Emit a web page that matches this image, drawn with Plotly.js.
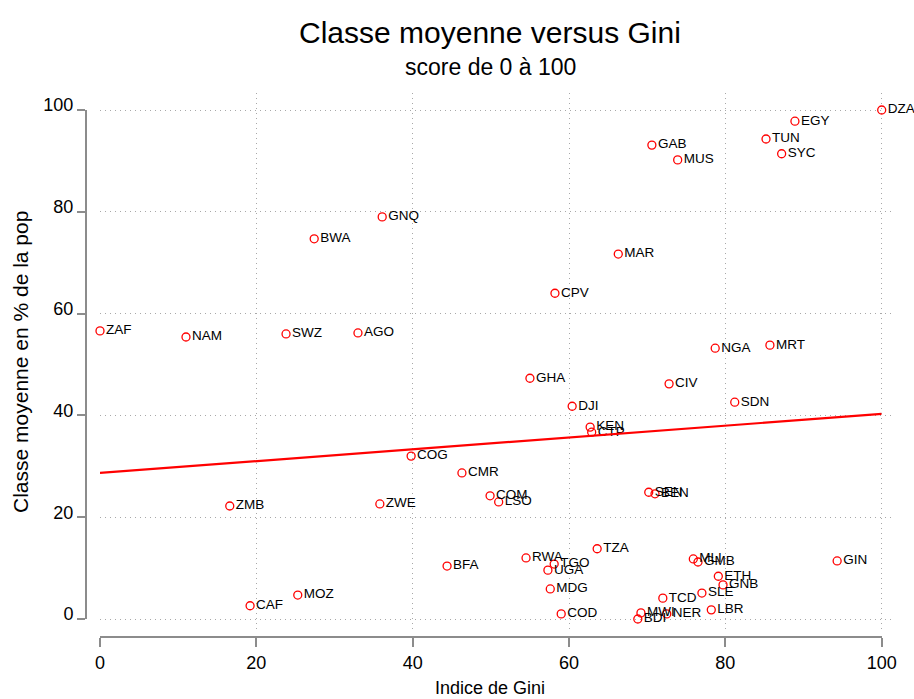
<!DOCTYPE html>
<html>
<head>
<meta charset="utf-8">
<script src="https://cdn.plot.ly/plotly-3.0.1.min.js"></script>
<style>html,body{margin:0;padding:0;background:#fff;}#chart{width:914px;height:699px;}</style>
</head>
<body>
<div id="chart"></div>
<script>
const countries = ["ZAF","NAM","SWZ","AGO","BWA","GNQ","ZMB","CAF","MOZ","ZWE","COG","CMR","BFA","COM","LSO","GHA","CPV","DJI","KEN","CTP","MAR","GAB","MUS","TUN","EGY","SYC","DZA","NGA","MRT","CIV","SDN","SEN","BEN","RWA","TGO","UGA","MDG","COD","TZA","MLI","GMB","ETH","GNB","SLE","LBR","TCD","MWI","NER","BDI","GIN"];
const gini = [0,11.0,23.8,33.0,27.4,36.1,16.6,19.2,25.3,35.8,39.8,46.3,44.4,49.9,51.0,55.0,58.2,60.4,62.7,62.9,66.3,70.6,73.9,85.2,88.9,87.2,100,78.7,85.7,72.8,81.2,70.2,71.0,54.5,58.1,57.3,57.6,59.0,63.6,75.9,76.5,79.1,79.7,77.0,78.2,72.0,69.2,72.5,68.8,94.3];
const middle = [56.6,55.4,56.0,56.2,74.7,79.0,22.2,2.6,4.7,22.6,32.0,28.7,10.4,24.2,23.0,47.3,64.0,41.8,37.7,36.7,71.7,93.1,90.2,94.3,97.8,91.4,100,53.2,53.8,46.2,42.6,24.9,24.6,12.0,10.8,9.6,5.9,1.0,13.8,11.8,11.2,8.4,6.7,5.1,1.8,4.1,1.2,1.0,0,11.4];
const fitX = [0,100];
const fitY = [28.7,40.3];
const tickValues = [0,20,40,60,80,100];

const W = 914, H = 699;
const FONT = "Liberation Sans, Arial, sans-serif";
const axisGray = "#8c8c8c";

const traces = [
  {x:[null], y:[null], xaxis:"x", yaxis:"y", mode:"markers", hoverinfo:"skip", showlegend:false},
  {x:gini, y:middle, text:countries, xaxis:"x2", yaxis:"y2", mode:"markers+text",
   type:"scatter", cliponaxis:false, showlegend:false,
   marker:{symbol:"circle-open", size:8, color:"#ff0000", line:{width:1.3, color:"#ff0000"}},
   textposition:"middle right", textfont:{family:FONT, size:13.5, color:"#000"}},
  {x:fitX, y:fitY, xaxis:"x2", yaxis:"y2", mode:"lines", showlegend:false,
   line:{color:"#ff0000", width:2.2}}
];

const layout = {
  width:W, height:H, autosize:false,
  margin:{l:0,r:0,t:0,b:0},
  paper_bgcolor:"#fff", plot_bgcolor:"rgba(0,0,0,0)",
  font:{family:FONT, color:"#000"},
  showlegend:false,
  xaxis:{domain:[100/W, 895/W], range:[0,101.7], anchor:"y",
         showgrid:true, griddash:"1px,4px", gridcolor:"#a8a8a8", gridwidth:1,
         tickvals:tickValues, showticklabels:false, ticks:"", zeroline:false, showline:false, fixedrange:true},
  yaxis:{domain:[69/H, 606/H], range:[-2.16,103.34], anchor:"x",
         showgrid:true, griddash:"1px,4px", gridcolor:"#a8a8a8", gridwidth:1,
         tickvals:tickValues, showticklabels:false, ticks:"", zeroline:false, showline:false, fixedrange:true},
  xaxis2:{domain:[100/W, 881.7/W], range:[0,100], anchor:"free", position:(H-637)/H,
          showline:true, linecolor:axisGray, linewidth:2, ticks:"outside", ticklen:9, tickwidth:2, tickcolor:axisGray,
          tickvals:tickValues, showgrid:false, zeroline:false,
          tickfont:{family:FONT, size:18, color:"#000"}},
  yaxis2:{domain:[(H-619)/H, (H-110)/H], range:[0,100], anchor:"free", position:86/W, side:"left",
          showline:true, linecolor:axisGray, linewidth:2, ticks:"outside", ticklen:8, tickwidth:2, tickcolor:axisGray,
          tickvals:tickValues, showgrid:false, zeroline:false, ticklabelshift:-5,
          tickfont:{family:FONT, size:18, color:"#000"}},
  annotations:[
    {text:"Classe moyenne versus Gini", xref:"paper", yref:"paper", x:490/W, y:1-32/H,
     xanchor:"center", yanchor:"middle", showarrow:false, font:{family:FONT, size:30, color:"#000"}},
    {text:"score de 0 à 100", xref:"paper", yref:"paper", x:490/W, y:1-67/H,
     xanchor:"center", yanchor:"middle", showarrow:false, font:{family:FONT, size:23, color:"#000"}},
    {text:"Indice de Gini", xref:"paper", yref:"paper", x:490/W, y:1-688/H,
     xanchor:"center", yanchor:"middle", showarrow:false, font:{family:FONT, size:18, color:"#000"}},
    {text:"Classe moyenne en % de la pop", xref:"paper", yref:"paper", x:20/W, y:1-362/H,
     xanchor:"center", yanchor:"middle", textangle:-90, showarrow:false, font:{family:FONT, size:21, color:"#000"}}
  ]
};

Plotly.newPlot("chart", traces, layout, {displayModeBar:false, staticPlot:true});
</script>
</body>
</html>
